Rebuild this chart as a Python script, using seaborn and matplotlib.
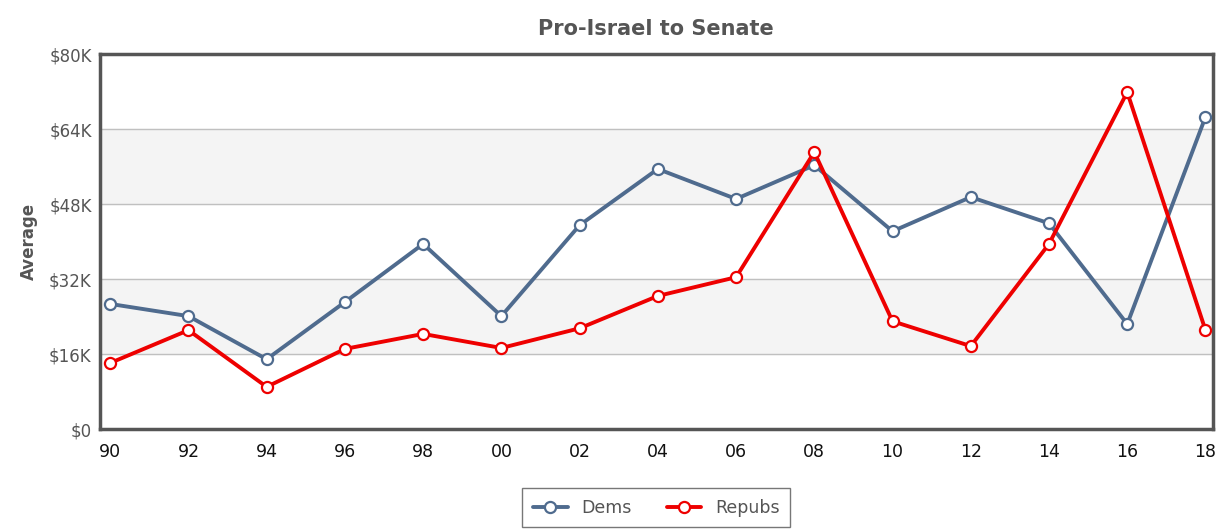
import pandas as pd
import matplotlib.pyplot as plt
import seaborn as sns

# election cycles and average contributions (thousands $)
years = ['90', '92', '94', '96', '98', '00', '02', '04', '06', '08', '10', '12', '14', '16', '18']
dems = [26.7, 24.1, 14.9, 27.1, 39.5, 24.1, 43.5, 55.5, 49.1, 56.3, 42.2, 49.5, 43.9, 22.4, 66.6]
repubs = [14.1, 21.1, 9.0, 17.1, 20.3, 17.3, 21.5, 28.4, 32.4, 59.1, 23.0, 17.7, 39.5, 71.9, 21.1]

idx = list(range(len(years)))

sns.set_style('white')
fig = plt.figure(figsize=(12.26, 5.31), dpi=100)
ax = fig.add_axes([0.0816, 0.192, 0.9074, 0.706])

# alternating bands
for lo, hi in [(16, 32), (48, 64)]:
    ax.axhspan(lo, hi, color='#f4f4f4', zorder=0)
for y in [16, 32, 48, 64]:
    ax.axhline(y, color='#c0c0c0', lw=1, zorder=1)

for name, vals, col in [('Dems', dems, '#4f6b8e'), ('Repubs', repubs, '#ee0000')]:
    sns.lineplot(x=idx, y=vals, color=col, label=name, ax=ax,
                 marker='o', markersize=8, markerfacecolor='white',
                 markeredgecolor=col, markeredgewidth=1.6,
                 linewidth=2.8, zorder=3)

ax.set_xlim(-0.13, 14.09)
ax.set_ylim(0, 80)
ax.set_xticks(idx)
ax.set_xticklabels(years, fontsize=12.5, color='#111111')
ax.set_yticks([0, 16, 32, 48, 64, 80])
ax.set_yticklabels(['$0', '$16K', '$32K', '$48K', '$64K', '$80K'], fontsize=12, color='#555555')
ax.tick_params(axis='x', length=0, pad=10)
ax.tick_params(axis='y', length=0, pad=6)
ax.set_xlabel('')
ax.set_ylabel('Average', fontsize=12, fontweight='bold', color='#555555', labelpad=8)
ax.set_title('Pro-Israel to Senate', fontsize=15, fontweight='bold', color='#555555', pad=14)

for s in ax.spines.values():
    s.set_color('#555555')
    s.set_linewidth(2.5)

ax.legend(loc='upper center', bbox_to_anchor=(0.5, -0.135), ncol=2, frameon=True,
          fontsize=12.5, fancybox=False, edgecolor='#555555', labelcolor='#555555',
          handlelength=2, columnspacing=2, borderpad=0.6)

fig.savefig('out.png', dpi=100)
